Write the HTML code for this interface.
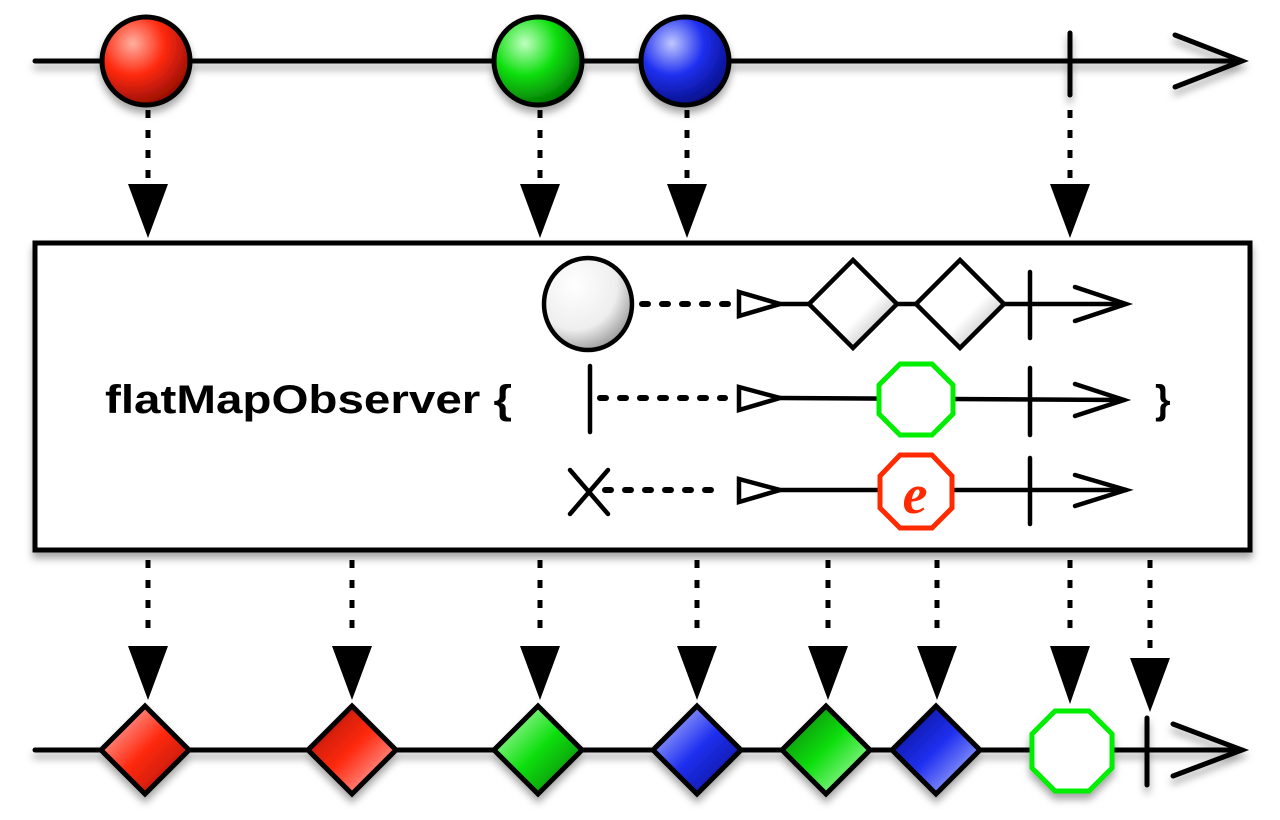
<!DOCTYPE html>
<html><head><meta charset="utf-8"><style>html,body{margin:0;padding:0;background:#fff}svg{display:block}</style></head>
<body>
<svg width="1280" height="820" viewBox="0 0 1280 820" xmlns="http://www.w3.org/2000/svg">
<defs>
<filter id="sh" x="-20%" y="-20%" width="140%" height="160%"><feDropShadow dx="0" dy="6" stdDeviation="4" flood-color="#000" flood-opacity="0.35"/></filter>
<radialGradient id="gr" cx="0.35" cy="0.3" r="0.8"><stop offset="0" stop-color="#ffb0a0"/><stop offset="0.45" stop-color="#ff2a10"/><stop offset="1" stop-color="#800800"/></radialGradient>
<radialGradient id="gg" cx="0.35" cy="0.3" r="0.8"><stop offset="0" stop-color="#c0ffc0"/><stop offset="0.45" stop-color="#10e010"/><stop offset="1" stop-color="#006000"/></radialGradient>
<radialGradient id="gb" cx="0.35" cy="0.3" r="0.8"><stop offset="0" stop-color="#c0c8ff"/><stop offset="0.45" stop-color="#2030f0"/><stop offset="1" stop-color="#000870"/></radialGradient>
<radialGradient id="gw" cx="0.35" cy="0.3" r="0.8"><stop offset="0" stop-color="#fff"/><stop offset="0.6" stop-color="#eee"/><stop offset="1" stop-color="#888"/></radialGradient>
<linearGradient id="dr" x1="0" y1="0" x2="1" y2="1"><stop offset="0" stop-color="#ffd0d0"/><stop offset="0.5" stop-color="#ff2a10"/><stop offset="1" stop-color="#a01000"/></linearGradient>
<linearGradient id="dr2" x1="1" y1="1" x2="0" y2="0"><stop offset="0" stop-color="#ffd0d0"/><stop offset="0.5" stop-color="#ff2a10"/><stop offset="1" stop-color="#a01000"/></linearGradient>
<linearGradient id="dg" x1="0" y1="0" x2="1" y2="1"><stop offset="0" stop-color="#d0ffd0"/><stop offset="0.5" stop-color="#10e010"/><stop offset="1" stop-color="#007000"/></linearGradient>
<linearGradient id="dg2" x1="1" y1="1" x2="0" y2="0"><stop offset="0" stop-color="#d0ffd0"/><stop offset="0.5" stop-color="#10e010"/><stop offset="1" stop-color="#007000"/></linearGradient>
<linearGradient id="db" x1="0" y1="0" x2="1" y2="1"><stop offset="0" stop-color="#d0d8ff"/><stop offset="0.5" stop-color="#2030f0"/><stop offset="1" stop-color="#000a80"/></linearGradient>
<linearGradient id="db2" x1="1" y1="1" x2="0" y2="0"><stop offset="0" stop-color="#d0d8ff"/><stop offset="0.5" stop-color="#2030f0"/><stop offset="1" stop-color="#000a80"/></linearGradient>
<linearGradient id="dw" x1="0" y1="0" x2="1" y2="1"><stop offset="0" stop-color="#fff"/><stop offset="0.6" stop-color="#fff"/><stop offset="1" stop-color="#999"/></linearGradient>
</defs>

<g filter="url(#sh)" stroke="#000" stroke-linecap="round" fill="none">
<line x1="35" y1="61" x2="1242" y2="61" stroke-width="5"/>
<polyline points="1175,35 1242,61 1175,87" stroke-width="5"/>
<line x1="1070" y1="33" x2="1070" y2="95" stroke-width="5"/>
<circle cx="146" cy="61" r="44" fill="url(#gr)" stroke-width="5"/>
<circle cx="538" cy="61" r="44" fill="url(#gg)" stroke-width="5"/>
<circle cx="685" cy="61" r="44" fill="url(#gb)" stroke-width="5"/>
</g>

<g stroke="#000" stroke-width="5" stroke-dasharray="8 12" fill="none">
<line x1="148" y1="110" x2="148" y2="180"/>
<line x1="540" y1="110" x2="540" y2="180"/>
<line x1="687" y1="110" x2="687" y2="180"/>
<line x1="1070" y1="110" x2="1070" y2="180"/>
</g>
<g fill="#000">
<polygon points="128,184 168,184 148,238"/>
<polygon points="520,184 560,184 540,238"/>
<polygon points="667,184 707,184 687,238"/>
<polygon points="1050,184 1090,184 1070,238"/>
</g>

<rect x="35" y="243" width="1215" height="307" fill="#fff" stroke="#000" stroke-width="5" filter="url(#sh)"/>
<text x="105" y="413" font-family="Liberation Sans, sans-serif" font-weight="bold" font-size="40" textLength="407" lengthAdjust="spacingAndGlyphs">flatMapObserver {</text>
<text x="1155" y="413" font-family="Liberation Sans, sans-serif" font-weight="bold" font-size="40">}</text>

<g stroke="#000" stroke-width="4.5" fill="none" stroke-linecap="round">
<line x1="642" y1="304" x2="735" y2="304" stroke-dasharray="6 14" stroke-width="6"/>
<line x1="780" y1="304" x2="1124" y2="304"/>
<polyline points="1075,287 1126,304 1075,321"/>
<line x1="1030" y1="272" x2="1030" y2="338"/>
<polygon points="739,292 780,304 739,316" fill="#fff"/>
<ellipse cx="588" cy="304" rx="44" ry="46" fill="url(#gw)"/>
<polygon points="853,260 897,304 853,348 809,304" fill="url(#dw)"/>
<polygon points="960,260 1004,304 960,348 916,304" fill="url(#dw)"/>
<line x1="590" y1="366" x2="590" y2="432"/>
<line x1="600" y1="398" x2="725" y2="398" stroke-dasharray="6 14" stroke-width="6"/>
<line x1="780" y1="398" x2="1124" y2="400"/>
<polyline points="1075,384 1124,400 1075,416"/>
<line x1="1030" y1="368" x2="1030" y2="435"/>
<polygon points="739,387 780,398 739,410" fill="#fff"/>
<line x1="570" y1="470" x2="608" y2="514"/>
<line x1="608" y1="470" x2="570" y2="514"/>
<line x1="605" y1="490" x2="725" y2="490" stroke-dasharray="6 14" stroke-width="6"/>
<line x1="780" y1="490" x2="1126" y2="490"/>
<polyline points="1075,475 1126,490 1075,506"/>
<line x1="1030" y1="458" x2="1030" y2="524"/>
<polygon points="739,479 780,490 739,502" fill="#fff"/>
</g>
<polygon points="900,364 932,364 953,385 953,414 932,435 900,435 879,414 879,385" fill="#fff" stroke="#00ee00" stroke-width="5"/>
<polygon points="900,455 932,455 952,476 952,508 932,528 900,528 880,508 880,476" fill="#fff" stroke="#ff2a00" stroke-width="5"/>
<text x="915" y="513" text-anchor="middle" font-family="Liberation Serif, serif" font-style="italic" font-weight="bold" font-size="56" fill="#ff2a00">e</text>

<g stroke="#000" stroke-width="5" stroke-dasharray="8 12" fill="none">
<line x1="148" y1="560" x2="148" y2="640"/>
<line x1="352" y1="560" x2="352" y2="640"/>
<line x1="540" y1="560" x2="540" y2="640"/>
<line x1="697" y1="560" x2="697" y2="640"/>
<line x1="828" y1="560" x2="828" y2="640"/>
<line x1="937" y1="560" x2="937" y2="640"/>
<line x1="1070" y1="560" x2="1070" y2="640"/>
<line x1="1150" y1="560" x2="1150" y2="650"/>
</g>
<g fill="#000">
<polygon points="128,646 168,646 148,700"/>
<polygon points="332,646 372,646 352,700"/>
<polygon points="520,646 560,646 540,700"/>
<polygon points="677,646 717,646 697,700"/>
<polygon points="808,646 848,646 828,700"/>
<polygon points="917,646 957,646 937,700"/>
<polygon points="1050,646 1090,646 1070,704"/>
<polygon points="1130,658 1170,658 1150,712"/>
</g>

<g filter="url(#sh)" stroke="#000" stroke-width="5" stroke-linecap="round" fill="none">
<line x1="35" y1="750" x2="1242" y2="750"/>
<polyline points="1173,724 1242,750 1173,776"/>
<line x1="1147" y1="718" x2="1147" y2="785"/>
<polygon points="145,706 189,750 145,794 101,750" fill="url(#dr)"/>
<polygon points="352,706 396,750 352,794 308,750" fill="url(#dr2)"/>
<polygon points="538,706 582,750 538,794 494,750" fill="url(#dg)"/>
<polygon points="697,706 741,750 697,794 653,750" fill="url(#db)"/>
<polygon points="826,706 870,750 826,794 782,750" fill="url(#dg2)"/>
<polygon points="936,706 980,750 936,794 892,750" fill="url(#db2)"/>
<polygon points="1055,711 1089,711 1112,734 1112,768 1089,791 1055,791 1032,768 1032,734" fill="#fff" stroke="#00ee00"/>
</g>
</svg>
</body></html>
